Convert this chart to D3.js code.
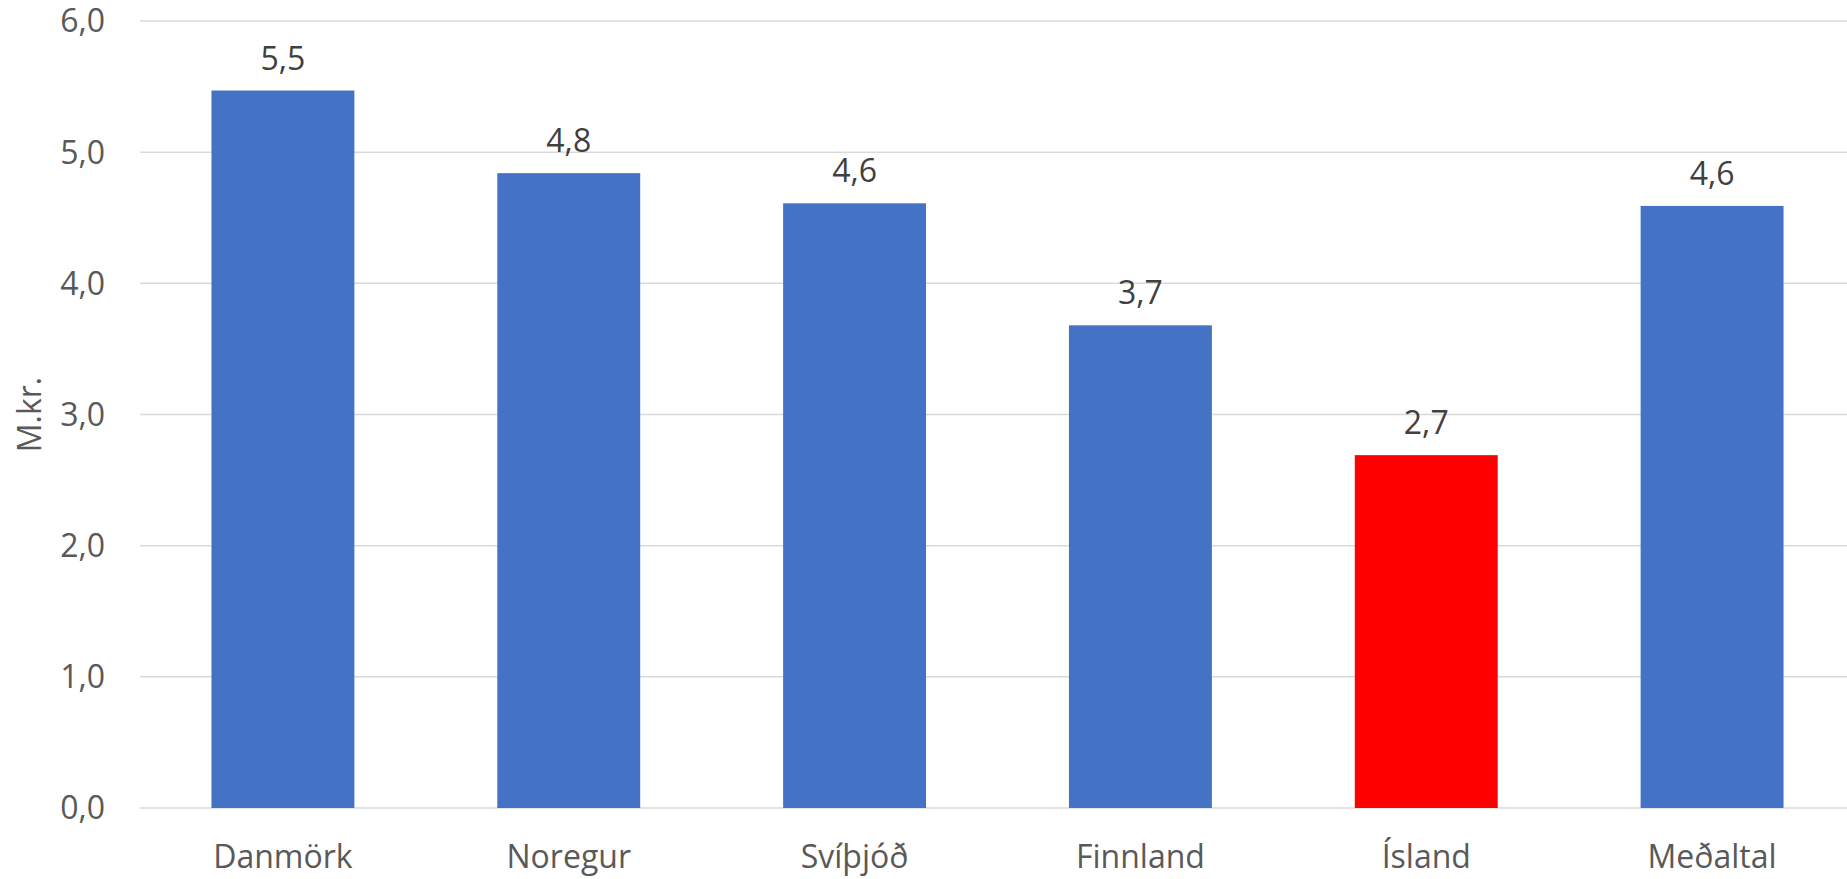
<!DOCTYPE html>
<html>
<head>
<meta charset="utf-8">
<script src="https://cdn.jsdelivr.net/npm/d3@7"></script>
<style>
  html, body { margin: 0; padding: 0; background: #fff; }
  svg { display: block; }
  text { font-family: "Open Sans", sans-serif; }
</style>
</head>
<body>
<svg id="chart" width="1847" height="879"></svg>
<script>
const categories = ["Danmörk", "Noregur", "Svíþjóð", "Finnland", "Ísland", "Meðaltal"];
const values = [5.47, 4.84, 4.61, 3.68, 2.69, 4.59];
const valueLabels = ["5,5", "4,8", "4,6", "3,7", "2,7", "4,6"];
const barColors = ["#4472C4", "#4472C4", "#4472C4", "#4472C4", "#FF0000", "#4472C4"];
const yTicks = [0, 1, 2, 3, 4, 5, 6];
const yTickLabels = ["0,0", "1,0", "2,0", "3,0", "4,0", "5,0", "6,0"];
const yTitle = "M.kr.";

(function () {
const svg = d3.select("#chart");
const plotLeft = 140, plotRight = 1855, plotTop = 21, plotBottom = 808;

const x = d3.scaleBand().domain(categories).range([plotLeft, plotRight]).paddingInner(0.5).paddingOuter(0.25);
const y = d3.scaleLinear().domain([0, 6]).range([plotBottom, plotTop]);

// gridlines
svg.append("g").selectAll("line").data(yTicks).join("line")
  .attr("x1", plotLeft).attr("x2", 1847)
  .attr("y1", d => y(d)).attr("y2", d => y(d))
  .attr("stroke", "#d9d9d9").attr("stroke-width", 1.5);

// y tick labels
svg.append("g").selectAll("text").data(yTicks).join("text")
  .attr("x", 105).attr("y", d => y(d)).attr("dy", "0.357em")
  .attr("text-anchor", "end").attr("font-size", 32).attr("fill", "#595959")
  .text((d, i) => yTickLabels[i]);

// bars
svg.append("g").selectAll("rect").data(values).join("rect")
  .attr("x", (d, i) => x(categories[i])).attr("width", x.bandwidth())
  .attr("y", d => y(d)).attr("height", d => y(0) - y(d))
  .attr("fill", (d, i) => barColors[i]);

// value labels
svg.append("g").selectAll("text").data(values).join("text")
  .attr("x", (d, i) => x(categories[i]) + x.bandwidth() / 2)
  .attr("y", d => y(d) - 21)
  .attr("text-anchor", "middle").attr("font-size", 32).attr("fill", "#404040")
  .text((d, i) => valueLabels[i]);

// x labels
svg.append("g").selectAll("text").data(categories).join("text")
  .attr("x", d => x(d) + x.bandwidth() / 2).attr("y", 868)
  .attr("text-anchor", "middle").attr("font-size", 32).attr("fill", "#595959")
  .text(d => d);

// y title
svg.append("text")
  .attr("transform", `translate(41, ${(plotTop + plotBottom) / 2}) rotate(-90)`)
  .attr("text-anchor", "middle").attr("font-size", 32).attr("fill", "#595959")
  .text(yTitle);
})();
</script>
</body>
</html>
